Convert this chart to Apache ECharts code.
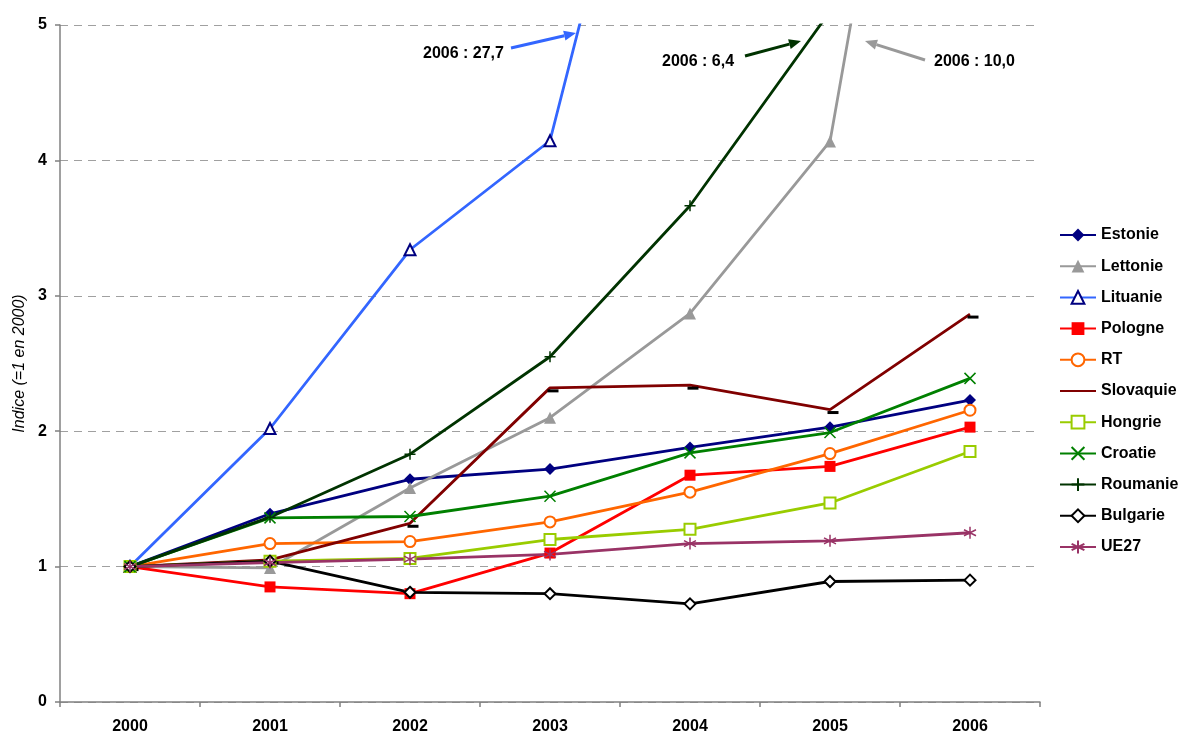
<!DOCTYPE html>
<html>
<head>
<meta charset="utf-8">
<script src="https://cdn.jsdelivr.net/npm/echarts@6/dist/echarts.min.js"></script>
<style>
  html, body { margin: 0; padding: 0; background: #fff; }
  #chart { width: 1181px; height: 735px; }
</style>
</head>
<body>
<div id="chart"></div>
<script>
// Indice de croissance (=1 en 2000), 2000-2006
const years = ['2000', '2001', '2002', '2003', '2004', '2005', '2006'];
const yTicks = [0, 1, 2, 3, 4, 5];

const estonie   = [1, 1.39, 1.645, 1.72, 1.88, 2.03, 2.23];
const lettonie  = [1, 0.99, 1.58, 2.10, 2.87, 4.14, 10.0];
const lituanie  = [1, 2.02, 3.34, 4.145, 8.2, 15.5, 27.7];
const pologne   = [1, 0.85, 0.80, 1.10, 1.675, 1.74, 2.03];
const rt        = [1, 1.17, 1.185, 1.33, 1.55, 1.835, 2.155];
const slovaquie = [1, 1.05, 1.32, 2.32, 2.34, 2.16, 2.865];
const hongrie   = [1, 1.04, 1.06, 1.20, 1.275, 1.47, 1.85];
const croatie   = [1, 1.36, 1.37, 1.52, 1.84, 1.99, 2.39];
const roumanie  = [1, 1.365, 1.83, 2.55, 3.665, 5.1, 6.4];
const bulgarie  = [1, 1.04, 0.81, 0.80, 0.725, 0.89, 0.90];
const ue27      = [1, 1.03, 1.055, 1.09, 1.17, 1.19, 1.25];

// call-outs for the 2006 values that run off the top of the scale
const callouts = [
  { text: '2006 : 27,7', at: [423, 54], from: [511, 48], to: [576, 33], color: '#3366FF' },
  { text: '2006 : 6,4',  at: [662, 62], from: [745, 56], to: [801, 41], color: '#003300' },
  { text: '2006 : 10,0', at: [934, 62], from: [925, 60], to: [865, 41], color: '#999999' }
];

const FONT = 'Liberation Sans, Arial, sans-serif';

// stroke-only marker shapes
const plusPath = 'path://M5,0L5,10M0,5L10,5';
const crossPath = 'path://M0,0L10,10M10,0L0,10';
const starPath = 'path://M5,0L5,10M0.7,2.5L9.3,7.5M0.7,7.5L9.3,2.5';

function series(name, data, lineColor, symbol, size, itemStyle, extra) {
  return Object.assign({
    name: name,
    type: 'line',
    data: data,
    symbol: symbol,
    symbolSize: size,
    showAllSymbol: true,
    clip: true,
    lineStyle: { color: lineColor, width: 2.8 },
    itemStyle: itemStyle,
    emphasis: { disabled: true },
    z: 2
  }, extra || {});
}

// arrow = shaft + filled head, plus its text
function arrowGraphics(c) {
  const [x1, y1] = c.from, [x2, y2] = c.to;
  const a = Math.atan2(y2 - y1, x2 - x1);
  const len = 12, half = 5;
  const bx = x2 - len * Math.cos(a), by = y2 - len * Math.sin(a);
  const px = -Math.sin(a) * half, py = Math.cos(a) * half;
  return [
    { type: 'line', silent: true,
      shape: { x1: x1, y1: y1, x2: bx, y2: by },
      style: { stroke: c.color, lineWidth: 3 } },
    { type: 'polygon', silent: true,
      shape: { points: [[x2, y2], [bx + px, by + py], [bx - px, by - py]] },
      style: { fill: c.color } },
    { type: 'text', silent: true, x: c.at[0], y: c.at[1],
      style: { text: c.text, fill: '#000', font: 'bold 16px ' + FONT, verticalAlign: 'middle' } }
  ];
}

const option = {
  animation: false,
  backgroundColor: '#fff',
  grid: { left: 60, right: 141, top: 25, bottom: 32 },
  xAxis: {
    type: 'category',
    data: years,
    boundaryGap: true,
    axisLine: { lineStyle: { color: '#808080', width: 1.5 } },
    axisTick: { show: true, length: 5, lineStyle: { color: '#808080', width: 1.5 } },
    axisLabel: { color: '#000', fontFamily: FONT, fontWeight: 'bold', fontSize: 16, margin: 17 }
  },
  yAxis: {
    type: 'value',
    min: yTicks[0],
    max: yTicks[yTicks.length - 1],
    interval: 1,
    name: 'Indice (=1 en 2000)',
    nameLocation: 'middle',
    nameRotate: 90,
    nameGap: 31,
    nameTextStyle: { color: '#000', fontFamily: FONT, fontStyle: 'italic', fontSize: 16 },
    axisLine: { show: true, lineStyle: { color: '#808080', width: 1.5 } },
    axisTick: { show: true, length: 5, lineStyle: { color: '#808080', width: 1.5 } },
    axisLabel: { color: '#000', fontFamily: FONT, fontWeight: 'bold', fontSize: 16, margin: 13 },
    splitLine: { show: true, lineStyle: { color: '#a0a0a0', type: [8, 6], width: 1 } }
  },
  legend: {
    orient: 'vertical',
    left: 1059,
    top: 227,
    padding: 0,
    itemWidth: 36,
    itemHeight: 16,
    itemGap: 15.2,
    textStyle: { color: '#000', fontFamily: FONT, fontWeight: 'bold', fontSize: 16 },
    data: ['Estonie', 'Lettonie', 'Lituanie', 'Pologne', 'RT',
           { name: 'Slovaquie', itemStyle: { opacity: 0 } },
           'Hongrie', 'Croatie', 'Roumanie', 'Bulgarie', 'UE27']
  },
  series: [
    series('Estonie', estonie, '#000080', 'diamond', 12, { color: '#000080' }),
    series('Lettonie', lettonie, '#999999', 'triangle', 12, { color: '#999999' }),
    series('Lituanie', lituanie, '#3366FF', 'emptyTriangle', 11,
      { color: '#000080', borderColor: '#000080', borderWidth: 1.5 }),
    series('Pologne', pologne, '#FF0000', 'rect', 11, { color: '#FF0000' }),
    series('RT', rt, '#FF6600', 'emptyCircle', 11,
      { color: '#FF6600', borderColor: '#FF6600', borderWidth: 1.5 }),
    series('Slovaquie', slovaquie, '#800000', 'rect', [11, 3],
      { color: '#000' }, { symbolOffset: [3, 3] }),
    series('Hongrie', hongrie, '#99CC00', 'emptyRect', 11,
      { color: '#99CC00', borderColor: '#99CC00', borderWidth: 1.5 }),
    series('Croatie', croatie, '#008000', crossPath, 11,
      { color: 'rgba(0,0,0,0)', borderColor: '#008000', borderWidth: 1.5 }),
    series('Roumanie', roumanie, '#003300', plusPath, 11,
      { color: 'rgba(0,0,0,0)', borderColor: '#003300', borderWidth: 1.5 }),
    series('Bulgarie', bulgarie, '#000000', 'emptyDiamond', 11,
      { color: '#000000', borderColor: '#000000', borderWidth: 1.3 }),
    series('UE27', ue27, '#993366', starPath, 12,
      { color: 'rgba(0,0,0,0)', borderColor: '#993366', borderWidth: 1.5 })
  ],
  graphic: callouts.flatMap(arrowGraphics)
};

const chart = echarts.init(document.getElementById('chart'), null, { renderer: 'canvas' });
chart.setOption(option);
</script>
</body>
</html>
